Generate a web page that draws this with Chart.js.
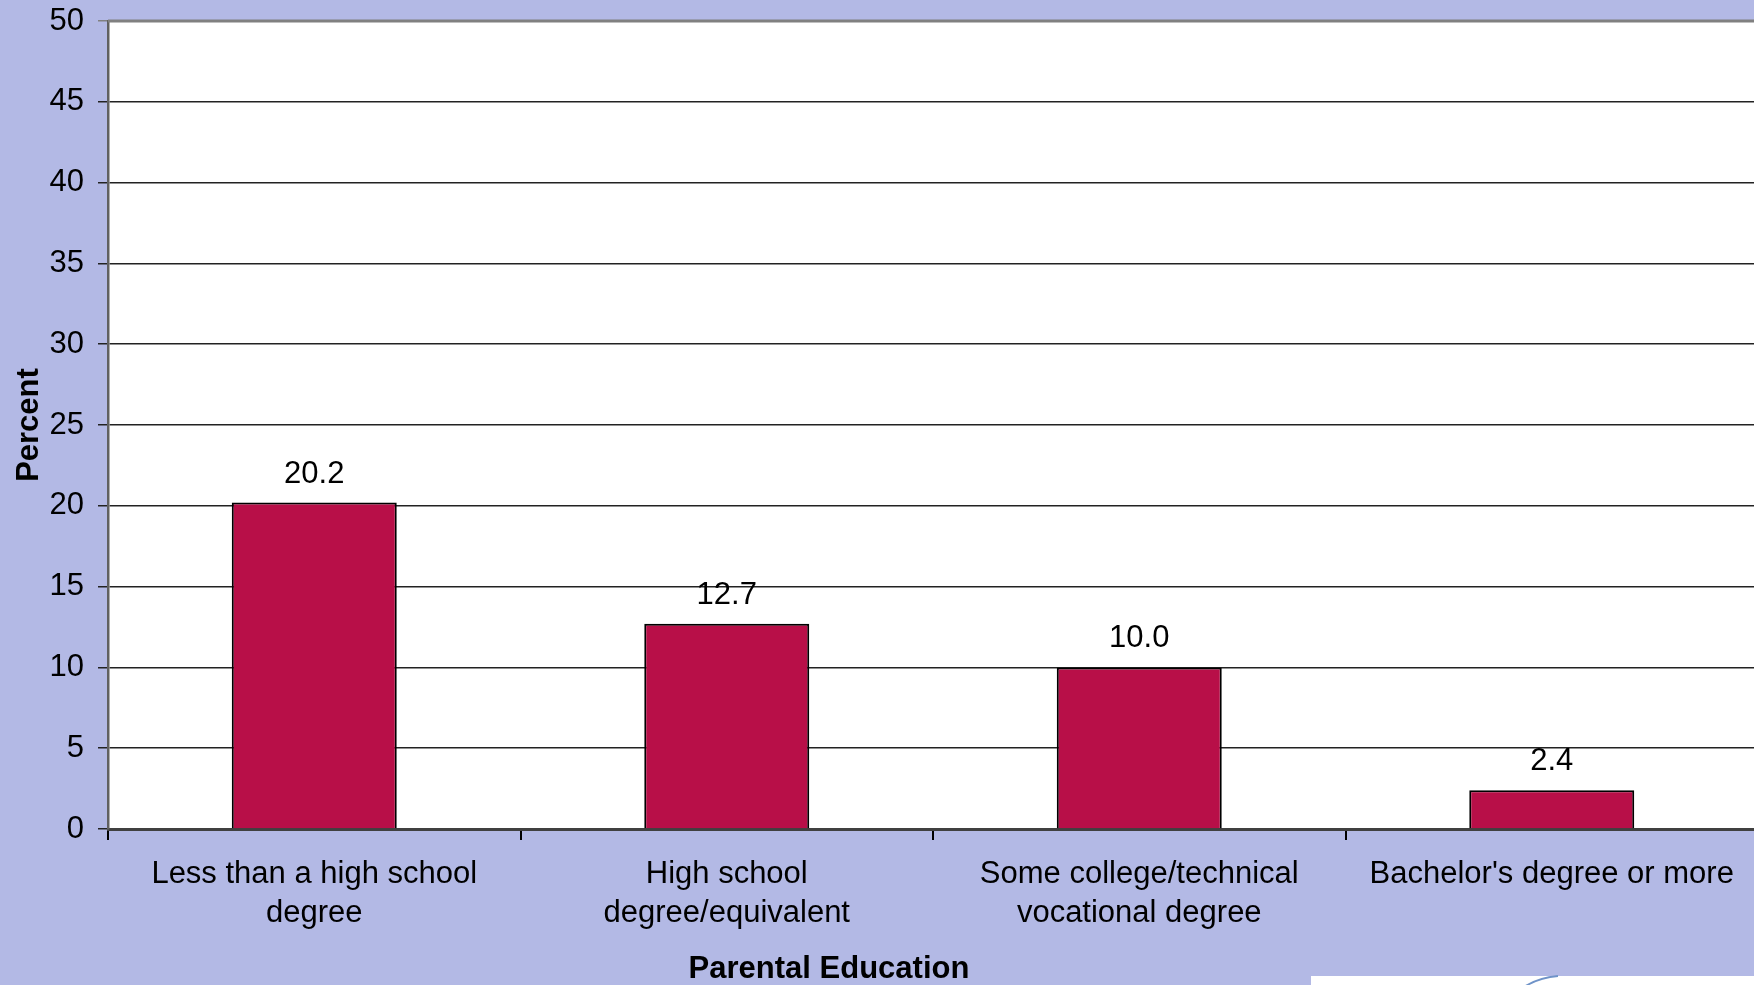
<!DOCTYPE html>
<html>
<head>
<meta charset="utf-8">
<script src="https://cdn.jsdelivr.net/npm/chart.js@4.4.1/dist/chart.umd.min.js"></script>
<style>
  html, body { margin: 0; padding: 0; background: #b3b9e5; overflow: hidden; }
  #wrap { width: 1758px; height: 985px; }
</style>
</head>
<body>
<div id="wrap"><canvas id="chart"></canvas></div>
<script>
// 資料
const categories = [
  ['Less than a high school', 'degree'],
  ['High school', 'degree/equivalent'],
  ['Some college/technical', 'vocational degree'],
  ["Bachelor's degree or more"]
];
const percentValues = [20.2, 12.7, 10.0, 2.4];
const yTicks = [0, 5, 10, 15, 20, 25, 30, 35, 40, 45, 50];
const xTitle = 'Parental Education';
const yTitle = 'Percent';

const FONT = 'Arial, "Liberation Sans", sans-serif';

// 柱上數值
const valueLabels = {
  id: 'valueLabels',
  afterDatasetsDraw(chart) {
    const ctx = chart.ctx;
    const meta = chart.getDatasetMeta(0);
    ctx.save();
    ctx.font = '31px ' + FONT;
    ctx.fillStyle = '#000';
    ctx.textAlign = 'center';
    ctx.textBaseline = 'alphabetic';
    meta.data.forEach((bar, i) => {
      ctx.fillText(percentValues[i].toFixed(1), bar.x, bar.y - 20);
    });
    ctx.restore();
  }
};

// 背景、x 標題、右下角白框
const decorations = {
  id: 'decorations',
  beforeDraw(chart) {
    const { ctx, chartArea } = chart;
    ctx.save();
    ctx.fillStyle = '#b3b9e5';
    ctx.fillRect(0, 0, chart.width, chart.height);
    ctx.fillStyle = '#ffffff';
    ctx.fillRect(chartArea.left, chartArea.top, chartArea.right - chartArea.left, chartArea.bottom - chartArea.top);
    ctx.restore();
  },
  afterDraw(chart) {
    const { ctx, chartArea } = chart;
    ctx.save();
    // 上邊框
    ctx.strokeStyle = '#808080';
    ctx.lineWidth = 3;
    ctx.beginPath();
    ctx.moveTo(chartArea.left, chartArea.top);
    ctx.lineTo(chartArea.right, chartArea.top);
    ctx.stroke();
    // x 軸標題
    ctx.font = 'bold 31px ' + FONT;
    ctx.fillStyle = '#000';
    ctx.textAlign = 'center';
    ctx.textBaseline = 'middle';
    ctx.fillText(xTitle, 829, 969);
    // 右下角白框
    ctx.fillStyle = '#ffffff';
    ctx.fillRect(1311, 976, 460, 20);
    ctx.strokeStyle = '#6f93c8';
    ctx.lineWidth = 2;
    ctx.beginPath();
    ctx.moveTo(1520, 990);
    ctx.quadraticCurveTo(1535, 978, 1558, 976);
    ctx.stroke();
    ctx.restore();
  }
};

new Chart(document.getElementById('chart'), {
  type: 'bar',
  data: {
    labels: categories,
    datasets: [{
      data: percentValues,
      backgroundColor: '#b80f48',
      borderColor: '#000000',
      borderWidth: 2,
      borderSkipped: 'bottom',
      barPercentage: 0.4,
      categoryPercentage: 1.0
    }]
  },
  options: {
    responsive: true,
    maintainAspectRatio: false,
    animation: false,
    layout: { padding: { top: 21, right: 0, left: 0, bottom: 0 } },
    plugins: {
      legend: { display: false },
      tooltip: { enabled: false }
    },
    scales: {
      x: {
        offset: true,
        grid: {
          offset: true,
          drawOnChartArea: false,
          color: '#000',
          lineWidth: 2,
          tickLength: 11
        },
        border: { color: '#404040', width: 3 },
        ticks: {
          color: '#000',
          font: { family: FONT, size: 31, lineHeight: 1.26 },
          padding: 15,
          maxRotation: 0,
          autoSkip: false
        },
        afterFit(scale) {
          scale.height = 156;
          scale.paddingLeft = 0;
          scale.paddingRight = 0;
        }
      },
      y: {
        min: 0,
        max: 50,
        afterBuildTicks(scale) { scale.ticks = yTicks.map(v => ({ value: v })); },
        grid: {
          color: ctx => (ctx.tick && ctx.tick.value === 50 ? '#808080' : '#222'),
          lineWidth: 1.5,
          tickLength: 10
        },
        border: { color: '#606060', width: 2.5 },
        ticks: {
          color: '#000',
          font: { family: FONT, size: 31 },
          padding: 14
        },
        title: {
          display: true,
          text: yTitle,
          color: '#000',
          font: { family: FONT, size: 31, weight: 'bold' },
          padding: { top: 11, bottom: 0 }
        },
        afterFit(scale) {
          scale.width = 108;
          scale.paddingTop = 0;
          scale.paddingBottom = 0;
        }
      }
    }
  },
  plugins: [decorations, valueLabels]
});
</script>
</body>
</html>
